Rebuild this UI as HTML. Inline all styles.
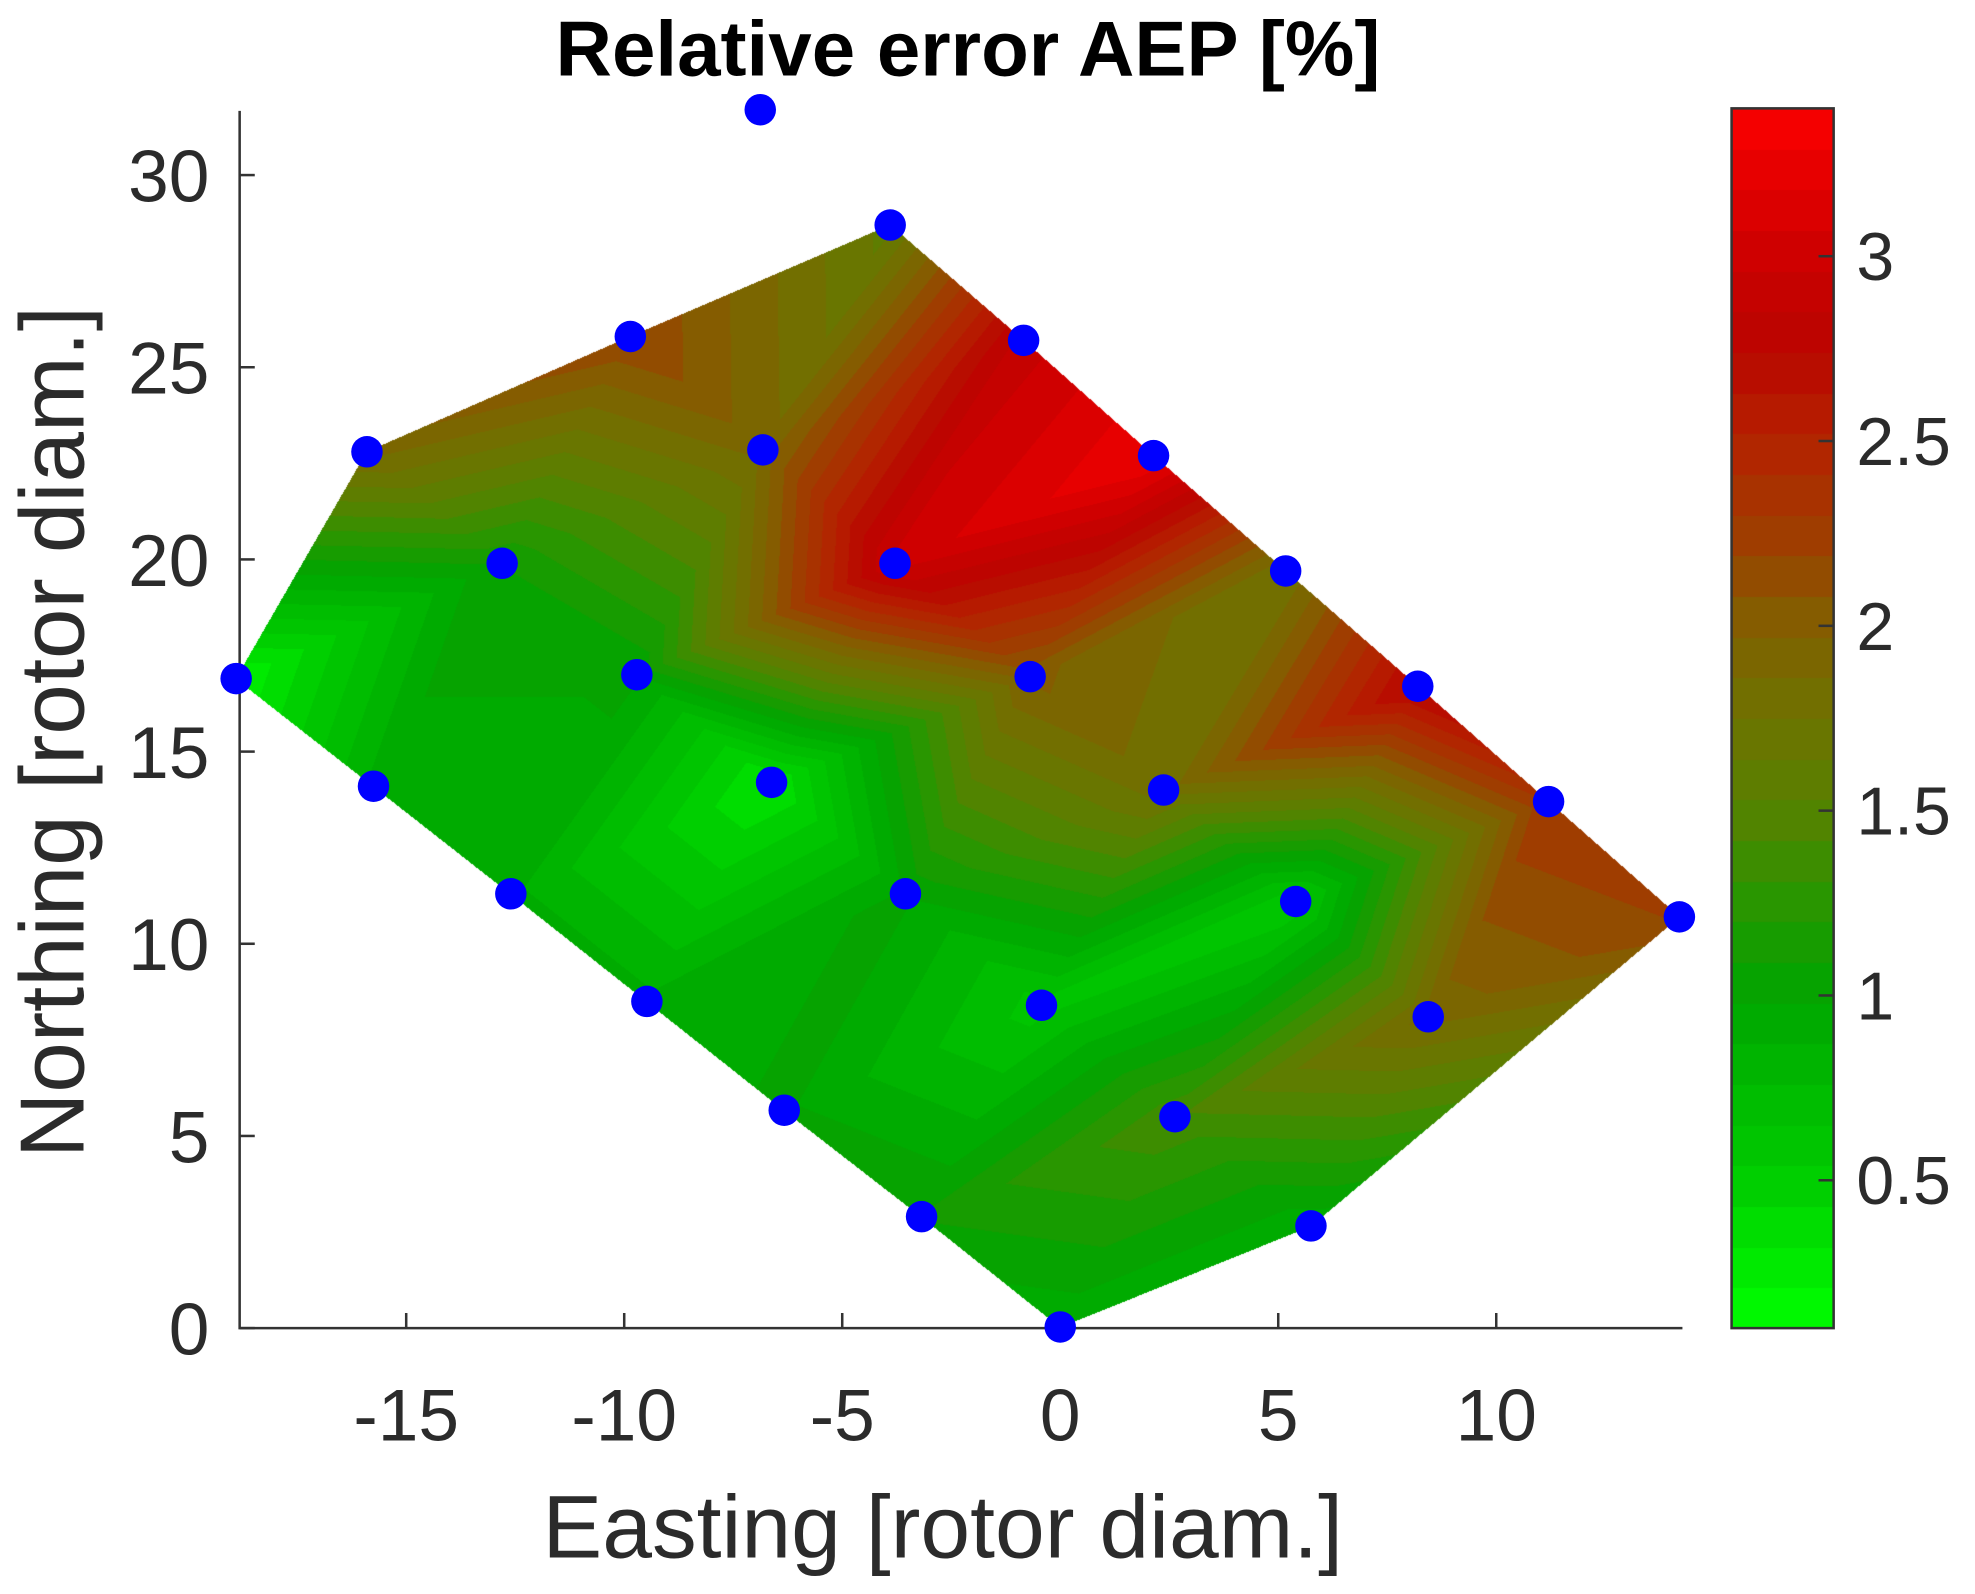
<!DOCTYPE html>
<html><head><meta charset="utf-8"><style>
html,body{margin:0;padding:0;background:#fff;}
#wrap{position:relative;width:1975px;height:1594px;overflow:hidden;}
#field{position:absolute;left:0;top:0;}
#chart{position:absolute;left:0;top:0;}
text{font-family:"Liberation Sans",Arial,sans-serif;fill:#2b2b2b;}
</style></head><body>
<div id="wrap">
<canvas id="field" width="1975" height="1594"></canvas>
<svg id="chart" width="1975" height="1594" viewBox="0 0 1567 1265">
<text x="768" y="60" font-size="62" font-weight="bold" text-anchor="middle" style="fill:#000">Relative error AEP [%]</text>
<g id="axes"></g>
<g id="pts"></g>
<g id="cbar"></g>
<text x="748" y="1236" font-size="71" text-anchor="middle">Easting [rotor diam.]</text>
<text x="0" y="0" font-size="72" text-anchor="middle" transform="translate(66,581) rotate(-90)">Northing [rotor diam.]</text>
</svg>
</div>
<script>
// ---- data ----
const row0X=[-3.9,-0.84,2.14,5.17,8.2,11.2,14.2];
const row0Y=[28.7,25.7,22.7,19.7,16.7,13.7,10.7];
const row0V=[1.6,2.9,3.3,1.75,2.8,2.3,2.2];
const row1X=[-9.86,-6.82,-3.79,-0.69,2.37,5.4,8.44];
const row1Y=[25.8,22.85,19.9,16.95,14.0,11.1,8.1];
const row1V=[2.2,1.9,3.0,2.0,1.8,0.55,1.9];
const row2X=[-15.9,-12.8,-9.71,-6.62,-3.55,-0.43,2.63,5.75];
const row2Y=[22.8,19.9,17.0,14.2,11.3,8.4,5.5,2.66];
const row2V=[1.9,1.1,1.0,0.3,1.0,0.6,1.4,0.9];
const row3X=[-18.9,-15.75,-12.6,-9.48,-6.33,-3.18,0.0];
const row3Y=[16.9,14.1,11.3,8.5,5.67,2.9,0.03];
const row3V=[0.2,0.9,0.9,0.9,1.0,1.1,0.9];
const extraX=[-6.88];
const extraY=[31.7];
const xTicks=[-15,-10,-5,0,5,10];
const yTicks=[0,5,10,15,20,25,30];
const cTicks=[0.5,1,1.5,2,2.5,3];
const cMin=0.1, cMax=3.4, nLevels=30;

// ---- scales (display coords) ----
const X0=190,X1=1335,Y0=1054,Y1=88;
const xMin=-18.82,xMax=14.27,yMin=0,yMax=31.67;
const sx=v=>X0+(v-xMin)/(xMax-xMin)*(X1-X0);
const sy=v=>Y0-(v-yMin)/(yMax-yMin)*(Y0-Y1);
const CB={x:1374,w:81,top:86,bot:1054};
const sc=v=>CB.bot-(v-cMin)/(cMax-cMin)*(CB.bot-CB.top);

const stops=[[0.1,[0,255,0]],[0.5,[0,205,0]],[1,[0,165,0]],[1.25,[40,150,0]],[1.5,[85,130,0]],[1.75,[110,115,0]],[2,[130,95,0]],[2.25,[160,60,0]],[2.5,[180,35,0]],[2.75,[185,5,0]],[3,[205,0,0]],[3.4,[250,0,0]]];
function cmap(v){
  if(v<=stops[0][0])return stops[0][1];
  for(let i=1;i<stops.length;i++){if(v<=stops[i][0]){const a=stops[i-1],b=stops[i];const t=(v-a[0])/(b[0]-a[0]);return a[1].map((c,k)=>Math.round(c+(b[1][k]-c)*t));}}
  return stops[stops.length-1][1];
}
function quant(v){const step=(cMax-cMin)/nLevels;let k=Math.floor((v-cMin)/step);k=Math.max(0,Math.min(nLevels-1,k));return cMin+(k+0.5)*step;}

// lattice
const rows=[{o:0,x:row0X,y:row0Y,v:row0V},{o:0,x:row1X,y:row1Y,v:row1V},{o:0,x:row2X,y:row2Y,v:row2V},{o:1,x:row3X,y:row3Y,v:row3V}];
function P(i,j){const r=rows[j];const k=i-r.o;if(k<0||k>=r.x.length)return null;return [r.x[k],r.y[k],r.v[k]];}
const tris=[];
for(let j=0;j<3;j++){for(let i=0;i<8;i++){
  const a=P(i,j),b=P(i+1,j),c=P(i,j+1),d=P(i+1,j+1);
  if(a&&b&&c&&d){tris.push([a,b,d]);tris.push([a,d,c]);}
  else{const q=[a,b,d,c].filter(Boolean);if(q.length===3)tris.push(q);}
}}
tris.push([P(6,0),P(6,1),P(7,2)]);

// ---- draw field on canvas ----
const cv=document.getElementById('field');const ctx=cv.getContext('2d');
const S=1975/1567;
const img=ctx.createImageData(1975,1594);
const ptris=tris.map(t=>t.map(p=>[sx(p[0])*S,sy(p[1])*S,p[2]]));
for(const t of ptris){
  const [A,B,C]=t;
  const minx=Math.floor(Math.min(A[0],B[0],C[0])),maxx=Math.ceil(Math.max(A[0],B[0],C[0]));
  const miny=Math.floor(Math.min(A[1],B[1],C[1])),maxy=Math.ceil(Math.max(A[1],B[1],C[1]));
  const den=(B[1]-C[1])*(A[0]-C[0])+(C[0]-B[0])*(A[1]-C[1]);
  for(let y=miny;y<=maxy;y++)for(let x=minx;x<=maxx;x++){
    const px=x+0.5,py=y+0.5;
    const l1=((B[1]-C[1])*(px-C[0])+(C[0]-B[0])*(py-C[1]))/den;
    const l2=((C[1]-A[1])*(px-C[0])+(A[0]-C[0])*(py-C[1]))/den;
    const l3=1-l1-l2;
    if(l1<-0.001||l2<-0.001||l3<-0.001)continue;
    if(x<0||y<0||x>=1975||y>=1594)continue;
    const v=l1*A[2]+l2*B[2]+l3*C[2];
    const col=cmap(quant(v));const o=(y*1975+x)*4;
    img.data[o]=col[0];img.data[o+1]=col[1];img.data[o+2]=col[2];img.data[o+3]=255;
  }
}
ctx.putImageData(img,0,0);
// colorbar on canvas
for(let y=Math.round(CB.top*S);y<Math.round(CB.bot*S);y++){
  const v=cMin+(CB.bot-y/S)/(CB.bot-CB.top)*(cMax-cMin);
  const c=cmap(quant(v));ctx.fillStyle=`rgb(${c[0]},${c[1]},${c[2]})`;
  ctx.fillRect(Math.round(CB.x*S),y,Math.round(CB.w*S),1);
}

// ---- axes ----
const NS='http://www.w3.org/2000/svg';
function mk(tag,attrs,parent){const e=document.createElementNS(NS,tag);for(const k in attrs)e.setAttribute(k,attrs[k]);parent.appendChild(e);return e;}
const ax=document.getElementById('axes');
let e=mk('path',{d:`M${X0},${Y1} V${Y0} H${X1}`,fill:'none',stroke:'#333','stroke-width':2},ax);


xTicks.forEach(t=>{
  let l=mk('line',{x1:sx(t),x2:sx(t),y1:Y0,y2:Y0-12,stroke:'#333','stroke-width':2},ax);
  
  
  let tx=mk('text',{x:sx(t),y:Y0+89,'font-size':58,'text-anchor':'middle'},ax);tx.textContent=t;
  
  
});
yTicks.forEach(t=>{
  let l=mk('line',{x1:X0,x2:X0+12,y1:sy(t),y2:sy(t),stroke:'#333','stroke-width':2},ax);
  
  
  let tx=mk('text',{x:X0-24,y:sy(t)+21,'font-size':58,'text-anchor':'end'},ax);tx.textContent=t;
  
  
});
// points
const pg=document.getElementById('pts');
const allX=[].concat(row0X,row1X,row2X,row3X,extraX),allY=[].concat(row0Y,row1Y,row2Y,row3Y,extraY);
allX.forEach((x,i)=>{
  let c=mk('circle',{cx:sx(x),cy:sy(allY[i]),r:12.5,fill:'#0000ff'},pg);
  
  
});
// colorbar frame and ticks
const cb=document.getElementById('cbar');
let fr=mk('rect',{x:CB.x,y:CB.top,width:CB.w,height:CB.bot-CB.top,fill:'none',stroke:'#333','stroke-width':2},cb);


cTicks.forEach(t=>{
  let l=mk('line',{x1:CB.x+CB.w-12,x2:CB.x+CB.w,y1:sc(t),y2:sc(t),stroke:'#333','stroke-width':2},cb);
  
  
  let tx=mk('text',{x:CB.x+CB.w+18,y:sc(t)+19,'font-size':54},cb);tx.textContent=t;
  
  
});
</script>
</body></html>
